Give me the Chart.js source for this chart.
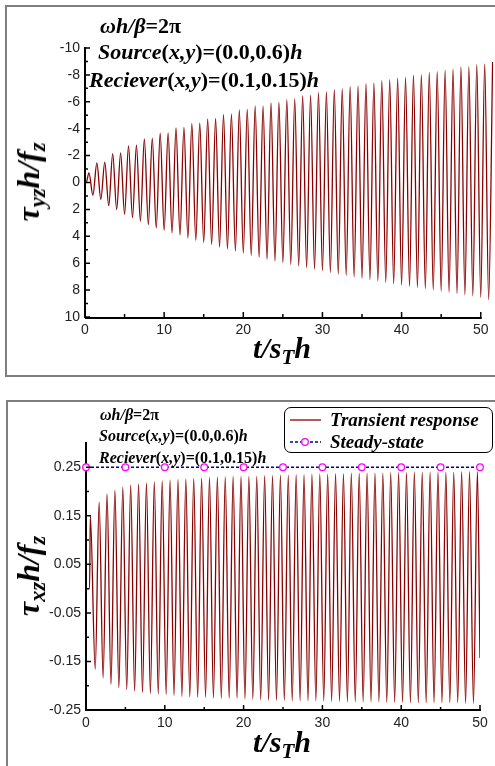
<!DOCTYPE html>
<html>
<head>
<meta charset="utf-8">
<script src="https://cdn.jsdelivr.net/npm/chart.js@4.4.1/dist/chart.umd.min.js"></script>
<style>
  html, body { margin: 0; padding: 0; background: #fff; }
  #page { position: relative; width: 495px; height: 766px; overflow: hidden; }
  .panel { position: absolute; border: 2px solid #7f7f7f; box-sizing: border-box; }
  #panelTop { left: 5px; top: 5px; width: 530px; height: 372px; }
  #panelBottom { left: 6px; top: 400px; width: 530px; height: 420px; }
  canvas { position: absolute; left: 0; }
  #topChart { top: 0; }
  #bottomChart { top: 380px; }
  .note { position: absolute; font-family: 'Liberation Serif', 'Times New Roman', serif; font-weight: bold; line-height: 1; white-space: nowrap; color: #000; }
  .sub { position: relative; top: 0.28em; font-size: 0.7em; }
  .ytitle { transform: translate(-50%, -50%) rotate(-90deg); }
  .xtitle { transform: translateX(-50%); }
  #legend { position: absolute; left: 284px; top: 407px; width: 209px; height: 46px; box-sizing: border-box;
            border: 1.5px solid #000; border-radius: 7px; background: #fff; }
  .legend-row { position: absolute; left: 0; height: 20px; }
  .legend-row svg { position: absolute; left: 4px; top: 0; }
  .legend-row span { position: absolute; left: 45px; top: 0; font: italic bold 19px 'Liberation Serif', 'Times New Roman', serif; line-height: 20px; white-space: nowrap; }
</style>
</head>
<body>
<div id="page">
  <div class="panel" id="panelTop"></div>
  <div class="panel" id="panelBottom"></div>
  <canvas id="topChart" width="495" height="376"></canvas>
  <canvas id="bottomChart" width="495" height="386"></canvas>

  <div class="note" style="left:100px; top:15px; font-size:22px;"><i>ωh/β</i>=2π</div>
  <div class="note" style="left:98px; top:41px; font-size:22px;"><i>Source</i>(<i>x,y</i>)=(0.0,0.6)<i>h</i></div>
  <div class="note" style="left:89px; top:69px; font-size:22px;"><i>Reciever</i>(<i>x,y</i>)=(0.1,0.15)<i>h</i></div>
  <div class="note ytitle" style="left:28px; top:182px; font-size:32px;"><i>τ<span class="sub">yz</span>h/f<span class="sub">z</span></i></div>
  <div class="note xtitle" style="left:282px; top:333px; font-size:30px;"><i>t/s<span class="sub">T</span>h</i></div>

  <div class="note" style="left:100px; top:407px; font-size:16px;"><i>ωh/β</i>=2π</div>
  <div class="note" style="left:99px; top:428px; font-size:16px;"><i>Source</i>(<i>x,y</i>)=(0.0,0.6)<i>h</i></div>
  <div class="note" style="left:99px; top:450px; font-size:16px;"><i>Reciever</i>(<i>x,y</i>)=(0.1,0.15)<i>h</i></div>
  <div class="note ytitle" style="left:28px; top:576px; font-size:32px;"><i>τ<span class="sub">xz</span>h/f<span class="sub">z</span></i></div>
  <div class="note xtitle" style="left:282px; top:727px; font-size:30px;"><i>t/s<span class="sub">T</span>h</i></div>

  <div id="legend"></div>
</div>
<script>
// top panel: tau_yz, troughs (positive, drawn downwards) and peaks (negative, drawn upwards)
const topStartTimes = [0, 0.15];
const topStartValues = [0, 0];
const topPeakTimes = [0.5, 1.5, 2.5, 3.5, 4.5, 5.5, 6.5, 7.5, 8.5, 9.5, 10.5, 11.5, 12.5, 13.5, 14.5, 15.5, 16.5, 17.5, 18.5, 19.5,
  20.5, 21.5, 22.5, 23.5, 24.5, 25.5, 26.5, 27.5, 28.5, 29.5, 30.5, 31.5, 32.5, 33.5, 34.5, 35.5, 36.5, 37.5, 38.5, 39.5,
  40.5, 41.5, 42.5, 43.5, 44.5, 45.5, 46.5, 47.5, 48.5, 49.5, 50.5, 51.5];
const topPeakValues = [-0.71, -1.46, -1.52, -2.15, -2.20, -2.72, -2.77, -3.24, -3.29, -3.66, -3.68, -4.06, -4.10, -4.40, -4.43, -4.72, -4.76, -5.05, -5.09, -5.40,
  -5.44, -5.67, -5.67, -5.91, -5.96, -6.16, -6.21, -6.43, -6.48, -6.68, -6.73, -6.91, -6.95, -7.13, -7.18, -7.35, -7.40, -7.58, -7.65, -7.75,
  -7.82, -7.99, -8.02, -8.19, -8.24, -8.36, -8.42, -8.59, -8.61, -8.76, -8.81, -8.96];
const topTroughTimes = [1, 2, 3, 4, 5, 6, 7, 8, 9, 10, 11, 12, 13, 14, 15, 16, 17, 18, 19, 20,
  21, 22, 23, 24, 25, 26, 27, 28, 29, 30, 31, 32, 33, 34, 35, 36, 37, 38, 39, 40,
  41, 42, 43, 44, 45, 46, 47, 48, 49, 50, 51];
const topTroughValues = [0.95, 1.25, 1.72, 2.01, 2.36, 2.61, 2.88, 3.13, 3.38, 3.55, 3.75, 3.92, 4.13, 4.30, 4.47, 4.62, 4.80, 4.94, 5.09, 5.24,
  5.41, 5.56, 5.71, 5.83, 5.96, 6.08, 6.21, 6.33, 6.45, 6.55, 6.68, 6.80, 6.90, 7.02, 7.12, 7.22, 7.32, 7.42, 7.52, 7.62,
  7.72, 7.81, 7.89, 7.99, 8.09, 8.16, 8.26, 8.36, 8.44, 8.54, 8.71];
const topXTicks = [0, 10, 20, 30, 40, 50];
const topXMinor = [5, 15, 25, 35, 45];
const topYTicks = [-10, -8, -6, -4, -2, 0, 2, 4, 6, 8, 10];
const topYMinor = [-9, -7, -5, -3, -1, 1, 3, 5, 7, 9];

// bottom panel: tau_xz transient response and steady-state amplitude
const bottomStartTimes = [0, 0.45];
const bottomStartValues = [0, 0];
const bottomPeakTimes = [0.55, 1.67, 2.67, 3.67, 4.67, 5.67, 6.67, 7.67, 8.67, 9.67, 10.67, 11.67, 12.67, 13.67, 14.67, 15.67, 16.67, 17.67, 18.67, 19.67,
  20.67, 21.67, 22.67, 23.67, 24.67, 25.67, 26.67, 27.67, 28.67, 29.67, 30.67, 31.67, 32.67, 33.67, 34.67, 35.67, 36.67, 37.67, 38.67, 39.67,
  40.67, 41.67, 42.67, 43.67, 44.67, 45.67, 46.67, 47.67, 48.67, 49.67];
const bottomPeakValues = [0.150, 0.178, 0.195, 0.203, 0.209, 0.213, 0.216, 0.218, 0.220, 0.222, 0.224, 0.225, 0.226, 0.227, 0.228, 0.229, 0.230, 0.230, 0.231, 0.231,
  0.231, 0.231, 0.233, 0.233, 0.234, 0.234, 0.235, 0.235, 0.236, 0.236, 0.236, 0.237, 0.237, 0.238, 0.238, 0.238, 0.238, 0.238, 0.239, 0.239,
  0.239, 0.240, 0.240, 0.240, 0.240, 0.240, 0.240, 0.241, 0.241, 0.241];
const bottomTroughTimes = [1.17, 2.17, 3.17, 4.17, 5.17, 6.17, 7.17, 8.17, 9.17, 10.17, 11.17, 12.17, 13.17, 14.17, 15.17, 16.17, 17.17, 18.17, 19.17, 20.17,
  21.17, 22.17, 23.17, 24.17, 25.17, 26.17, 27.17, 28.17, 29.17, 30.17, 31.17, 32.17, 33.17, 34.17, 35.17, 36.17, 37.17, 38.17, 39.17, 40.17,
  41.17, 42.17, 43.17, 44.17, 45.17, 46.17, 47.17, 48.17, 49.17];
const bottomTroughValues = [-0.166, -0.184, -0.197, -0.204, -0.208, -0.211, -0.214, -0.216, -0.217, -0.218, -0.220, -0.222, -0.223, -0.224, -0.224, -0.225, -0.226, -0.226, -0.226, -0.227,
  -0.228, -0.229, -0.230, -0.230, -0.230, -0.231, -0.231, -0.231, -0.231, -0.231, -0.232, -0.232, -0.233, -0.233, -0.233, -0.233, -0.233, -0.234, -0.234, -0.234,
  -0.235, -0.235, -0.235, -0.235, -0.235, -0.235, -0.235, -0.236, -0.236];
const bottomEndTimes = [50];
const bottomEndValues = [-0.143];
const steadyTimes = [0, 5, 10, 15, 20, 25, 30, 35, 40, 45, 50];
const steadyValues = [0.25, 0.25, 0.25, 0.25, 0.25, 0.25, 0.25, 0.25, 0.25, 0.25, 0.25];
const bottomXTicks = [0, 10, 20, 30, 40, 50];
const bottomXMinor = [5, 15, 25, 35, 45];
const bottomYTicks = [-0.25, -0.15, -0.05, 0.05, 0.15, 0.25];
const bottomYLabels = ['-0.25', '-0.15', '-0.05', '0.05', '0.15', '0.25'];
const bottomYMinor = [-0.2, -0.1, 0, 0.1, 0.2];

const TRANSIENT_COLOR = '#8b0000';
const STEADY_COLOR = '#00008b';
const MARKER_COLOR = '#ff00ff';

Chart.defaults.font.family = "'Liberation Sans', Arial, sans-serif";
Chart.defaults.font.size = 14;
Chart.defaults.color = '#222';

function toPoints(...pairs) {
  const pts = [];
  for (let i = 0; i < pairs.length; i += 2) {
    pairs[i].forEach((t, k) => pts.push({ x: t, y: pairs[i + 1][k] }));
  }
  return pts.sort((a, b) => a.x - b.x);
}

// Tecplot style ticks pointing into the plot; optional x axis line that stops at the last tick
const innerTicks = {
  id: 'innerTicks',
  afterDatasetsDraw(chart, args, opts) {
    const { ctx } = chart;
    const xs = chart.scales.x;
    const ys = chart.scales.y;
    const area = chart.chartArea;
    ctx.save();
    ctx.strokeStyle = '#000';
    if (opts.xAxisLine) {
      ctx.lineWidth = 2;
      ctx.beginPath();
      ctx.moveTo(area.left, area.bottom + 1);
      ctx.lineTo(xs.getPixelForValue(opts.xAxisLine) + 1, area.bottom + 1);
      ctx.stroke();
    }
    ctx.lineWidth = 1.5;
    ctx.beginPath();
    const xTick = (v, len) => {
      const px = xs.getPixelForValue(v);
      ctx.moveTo(px, area.bottom);
      ctx.lineTo(px, area.bottom - len);
    };
    const yTick = (v, len) => {
      const py = ys.getPixelForValue(v);
      ctx.moveTo(area.left, py);
      ctx.lineTo(area.left + len, py);
    };
    opts.xMajor.forEach(v => xTick(v, 5));
    opts.xMinor.forEach(v => xTick(v, 3));
    opts.yMajor.forEach(v => yTick(v, 5));
    opts.yMinor.forEach(v => yTick(v, 3));
    ctx.stroke();
    ctx.restore();
  }
};

function axis(min, max, ticks, labels, fit, extra) {
  return Object.assign({
    type: 'linear',
    min, max,
    grid: { display: false, drawTicks: false },
    border: { display: true, color: '#000', width: 2 },
    afterBuildTicks: scale => { scale.ticks = ticks.map(v => ({ value: v })); },
    ticks: { padding: 5, autoSkip: false, maxRotation: 0, callback: (v, i) => labels[i] },
    afterFit: fit
  }, extra || {});
}

const topChart = new Chart(document.getElementById('topChart'), {
  type: 'line',
  data: {
    datasets: [{
      label: 'Transient response',
      data: toPoints(topStartTimes, topStartValues, topPeakTimes, topPeakValues, topTroughTimes, topTroughValues),
      borderColor: TRANSIENT_COLOR,
      borderWidth: 1.3,
      pointRadius: 0,
      cubicInterpolationMode: 'monotone'
    }]
  },
  options: {
    responsive: false,
    animation: false,
    devicePixelRatio: 1,
    layout: { padding: { left: 0, top: 48, right: 1.6, bottom: 29 } },
    plugins: {
      legend: { display: false },
      tooltip: { enabled: false },
      innerTicks: { xMajor: topXTicks, xMinor: topXMinor, yMajor: topYTicks, yMinor: topYMinor, xAxisLine: 50 }
    },
    scales: {
      x: axis(0, 51.6, topXTicks, topXTicks.map(String), s => { s.height = 30; }, { border: { display: false } }),
      y: axis(-10, 10, topYTicks, topYTicks.map(String), s => { s.width = 85; }, { reverse: true })
    }
  },
  plugins: [innerTicks]
});

const bottomChart = new Chart(document.getElementById('bottomChart'), {
  type: 'line',
  data: {
    datasets: [{
      label: 'Transient response',
      data: toPoints(bottomStartTimes, bottomStartValues, bottomPeakTimes, bottomPeakValues,
        bottomTroughTimes, bottomTroughValues, bottomEndTimes, bottomEndValues),
      borderColor: TRANSIENT_COLOR,
      borderWidth: 1.3,
      pointRadius: 0,
      cubicInterpolationMode: 'monotone'
    }, {
      label: 'Steady-state',
      data: toPoints(steadyTimes, steadyValues),
      borderColor: STEADY_COLOR,
      borderWidth: 1.3,
      borderDash: [3, 2],
      pointRadius: 3.3,
      pointBorderWidth: 1.3,
      pointBorderColor: MARKER_COLOR,
      pointBackgroundColor: '#fff',
      clip: false
    }]
  },
  options: {
    responsive: false,
    animation: false,
    devicePixelRatio: 1,
    layout: { padding: { left: 0, top: 63, right: 15, bottom: 26 } },
    plugins: {
      legend: { display: false },
      tooltip: { enabled: false },
      innerTicks: { xMajor: bottomXTicks, xMinor: bottomXMinor, yMajor: bottomYTicks, yMinor: bottomYMinor }
    },
    scales: {
      x: axis(0, 50, bottomXTicks, bottomXTicks.map(String), s => { s.height = 30; }),
      y: axis(-0.25, 0.3, bottomYTicks, bottomYLabels, s => { s.width = 86; })
    }
  },
  plugins: [innerTicks]
});

// legend in the bottom panel, built from the datasets
function renderLegend(chart) {
  const box = document.getElementById('legend');
  chart.data.datasets.forEach((ds, i) => {
    const row = document.createElement('div');
    row.className = 'legend-row';
    row.style.top = (i === 0 ? 2 : 24) + 'px';
    const dash = ds.borderDash ? `stroke-dasharray="${ds.borderDash.join(',')}"` : '';
    const marker = ds.pointRadius ? `<circle cx="16" cy="10" r="${ds.pointRadius}" fill="${ds.pointBackgroundColor}" stroke="${ds.pointBorderColor}" stroke-width="${ds.pointBorderWidth}"/>` : '';
    row.innerHTML = `<svg width="34" height="20"><line x1="1" y1="10" x2="32" y2="10" stroke="${ds.borderColor}" stroke-width="${ds.borderWidth}" ${dash}/>${marker}</svg><span>${ds.label}</span>`;
    box.appendChild(row);
  });
}
renderLegend(bottomChart);
</script>
</body>
</html>
